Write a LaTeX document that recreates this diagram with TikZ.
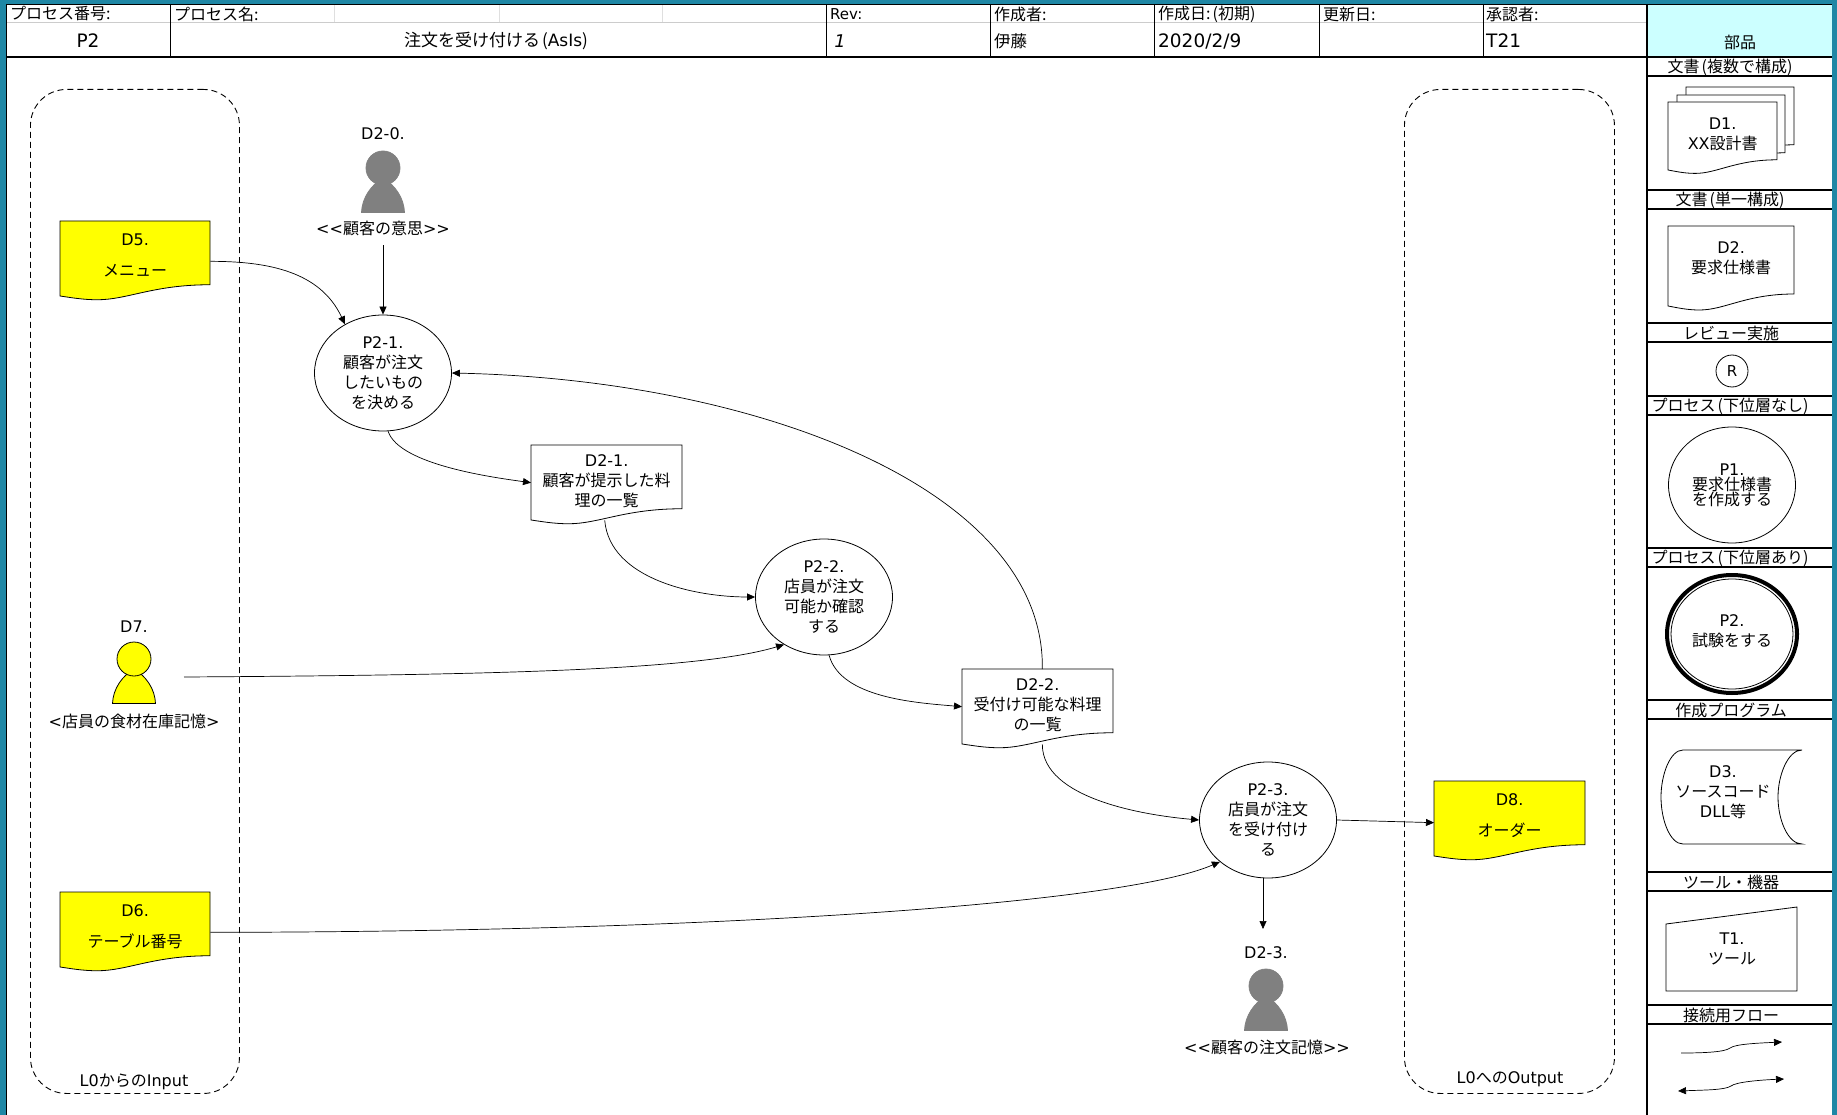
\documentclass[tikz,border=0pt]{standalone}
\usepackage{fontspec}
\setmainfont{Noto Sans CJK JP}
\newfontfamily\slantfont[FakeSlant=0.2]{DejaVu Sans}
\newfontfamily\lat{DejaVu Sans}
\usepackage{tikz}
\usetikzlibrary{positioning}
\usetikzlibrary{shapes.geometric,arrows.meta,calc}
\definecolor{frameteal}{HTML}{1F87A5}
\definecolor{partscyan}{HTML}{CCFFFF}
\definecolor{persongray}{HTML}{808080}
\definecolor{docyellow}{HTML}{FFFF00}
\newcommand{\lp}{\kern2pt(}
\newcommand{\rp}{)\kern2pt}
\newcommand{\topgap}[1]{\rule{0pt}{#1pt}}
\tikzset{
	txt/.style={inner sep=0pt,align=center,font=\fontsize{16}{20}\selectfont},
	hdr/.style={inner sep=0pt,anchor=west,font=\fontsize{16}{18}\selectfont},
	val/.style={inner sep=0pt,anchor=west,font=\fontsize{18.5}{20}\selectfont\lat},
	procnode/.style={draw,ellipse,inner sep=0pt,minimum width=137pt,minimum height=116pt,align=center,line width=0.8pt,font=\fontsize{16}{20}\selectfont},
	flow/.style={line width=0.7pt,-{Triangle[length=8pt,width=7pt]}},
	lane/.style={draw,dashed,line width=0.9pt,rounded corners=36pt,dash pattern=on 6pt off 4pt},
	sect/.style={line width=1.1pt},
}
\newcommand{\docnode}[7]{%
	\node (#1) [anchor=north west,inner sep=0pt,minimum width=#4pt,minimum height=#5pt] at (#2,#3) {};
	\draw[shift={(#2,#3)},x=#4pt,y=-#5pt,fill=#6,line width=0.8pt] (0,0) -- (1,0) -- (1,.85) .. controls (.62,.85) and (.45,1.05) .. (.25,1.05) .. controls (.15,1.05) and (.07,1.02) .. (0,1) -- cycle;
	\node (#1t) [txt,anchor=north] at ([yshift=-9pt]#1.north) {#7};
}
\newcommand{\personnode}[5]{%
	\draw[shift={(#2,#3)},fill=#4,draw=#5,line width=0.8pt] (-21.5,44.5) .. controls (-21,30) and (-12,17) .. (0,10) .. controls (12,17) and (21,30) .. (21.5,44.5) -- cycle;
	\node (#1) [draw=#5,fill=#4,circle,inner sep=0pt,minimum size=34pt,line width=0.8pt] at (#2,#3) {};
}
\begin{document}
\begin{tikzpicture}[x=1pt,y=-1pt]
	\useasboundingbox (0,0) rectangle (1837,1115);
	\fill[frameteal] (0,0) rectangle (1837,1115);
	\fill[white] (6,4) rectangle (1832,1115);
	\fill[partscyan] (1647,4) rectangle (1832,57);

	\foreach \xa in {334,499,662}
		\draw[gray!25] (\xa,4) -- (\xa,23);
	\draw[gray!40,line width=1pt] (6,23) -- (1647,23);
	\foreach \xa in {170,826,990,1154,1319,1483}
		\draw[line width=0.8pt] (\xa,4) -- (\xa,57);
	\draw[line width=0.8pt] (6,4) -- (1832,4);
	\draw[line width=1pt] (6,4) -- (6,1115);
	\draw[line width=1.5pt] (6,57) -- (1832,57);
	\draw[line width=2.5pt] (1647,4) -- (1647,1115);

	\node (hnum) [hdr] at (10,14) {プロセス番号:};
	\node (hname) [hdr] at (174,14) {プロセス名:};
	\node (hrev) [hdr,font=\fontsize{15}{18}\lat] at (830,14) {Rev:};
	\node (hauth) [hdr] at (994,14) {作成者:};
	\node (hdate) [hdr] at (1158,14) {作成日:\lp 初期\rp};
	\node (hupd) [hdr] at (1323,14) {更新日:};
	\node (happ) [hdr] at (1486,14) {承認者:};
	\node (vnum) [val,anchor=center] at (88,41) {P2};
	\node (vname) [val,anchor=center,font=\fontsize{17}{20}\selectfont] at (497,41) {注文を受け付ける\lp{\lat AsIs}\rp};
	\node (vrev) [val,font=\fontsize{17.5}{20}\slantfont] at (833,41) {1};
	\node (vauth) [val,font=\fontsize{16.5}{20}\selectfont] at (994,41) {伊藤};
	\node (vdate) [val] at (1158,41) {2020/2/9};
	\node (vapp) [val] at (1486,41) {T21};
	\node (parts) [hdr,anchor=center] at (1740,42) {部品};

	\foreach \ya/\yb/\ttl in {57/76/文書\lp 複数で構成\rp,190/209/文書\lp 単一構成\rp,323/342/レビュー実施,396/415/プロセス\lp 下位層なし\rp,548/567/プロセス\lp 下位層あり\rp,700/719/作成プログラム,872/891/ツール・機器,1005/1024/接続用フロー} {
		\draw[sect] (1647,\ya) -- (1832,\ya);
		\draw[sect] (1647,\yb) -- (1832,\yb);
		\node [txt] at (1731,{(\ya+\yb)/2+1}) {\ttl};
	}

	\node (inlane) [lane,minimum width=209pt,minimum height=1004pt,anchor=north west] at (30,89) {};
	\node (outlane) [lane,minimum width=210pt,minimum height=1004pt,anchor=north west] at (1404,89) {};
	\node (inlabel) [txt] at (134,1082) {{\lat L0}からの{\lat Input}};
	\node (outlabel) [txt] at (1510,1079) {{\lat L0}への{\lat Output}};

	\docnode{D5}{60}{221}{150}{75}{docyellow}{\topgap{15}{\lat D5.}\\[11pt]メニュー}
	\docnode{D6}{60}{892}{150}{75}{docyellow}{\topgap{15}{\lat D6.}\\[11pt]テーブル番号}
	\docnode{D8}{1434}{781}{151}{75}{docyellow}{\topgap{15}{\lat D8.}\\[11pt]オーダー}
	\docnode{D21}{531}{445}{151}{75}{white}{{\lat D2-1.}\\顧客が提示した料\\理の一覧}
	\docnode{D22}{962}{669}{151}{75}{white}{{\lat D2-2.}\\受付け可能な料理\\の一覧}

	\personnode{D20}{383}{168}{persongray}{persongray}
	\node (D20name) [txt,font=\fontsize{16}{20}\lat] at (383,134) {D2-0.};
	\node (D20txt) [txt,minimum height=34pt] at (383,228) {{\lat <{}<}顧客の意思{\lat >{}>}};
	\personnode{D7}{134}{659}{docyellow}{black}
	\node (D7name) [txt,font=\fontsize{16}{20}\lat] at (134,627) {D7.};
	\node (D7txt) [txt] at (134,721) {{\lat <}店員の食材在庫記憶{\lat >}};
	\coordinate (D7out) at (184,677);
	\personnode{D23}{1266}{986}{persongray}{persongray}
	\node (D23name) [txt,font=\fontsize{16}{20}\lat] at (1266,953) {D2-3.};
	\node (D23txt) [txt] at (1267,1047) {{\lat <{}<}顧客の注文記憶{\lat >{}>}};
	\coordinate (D23in) at (1263,929);

	\node (P21) [procnode] at (383,373) {{\lat P2-1.}\\顧客が注文\\したいもの\\を決める};
	\node (P22) [procnode] at (824,597) {{\lat P2-2.}\\店員が注文\\可能か確認\\する};
	\node (P23) [procnode] at (1268,820) {{\lat P2-3.}\\店員が注文\\を受け付け\\る};

	\draw[flow] (D5.-2) to[out=0,in=115] (P21.128);
	\draw[flow] (D20txt.south) -- (P21.north);
	\draw[flow] (P21.-85) to[out=-72,in=172,looseness=.6] (D21.west);
	\draw[flow] (D21.-93) to[out=-85,in=180,looseness=.9] (P22.west);
	\draw[flow] (D7out) .. controls (500,675) and (700,670) .. (P22.230);
	\draw[flow] (P22.-85) to[out=-75,in=175,looseness=.8] (D22.west);
	\draw[flow] (D22.83) .. controls (1045,490) and (760,380) .. (P21.east);
	\draw[flow] (D22.-83) to[out=-90,in=175,looseness=.8] (P23.west);
	\draw[flow] (P23.east) -- (D8.183);
	\draw[flow] (D6.-2) .. controls (700,932) and (1120,905) .. (P23.221);
	\draw[flow] (P23.south -| D23in) -- (D23in);

	\docnode{D1c}{1686}{87}{108}{68}{white}{}
	\docnode{D1b}{1677}{95}{108}{68}{white}{}
	\docnode{D1a}{1668}{102}{109}{68}{white}{\topgap{18}{\lat D1.}\\{\lat XX}設計書}
	\docnode{D2}{1668}{226}{126}{80}{white}{\topgap{18.5}{\lat D2.}\\要求仕様書}
	\node (R) [draw,circle,minimum size=32pt,inner sep=0pt,line width=0.8pt,font=\fontsize{15}{18}\lat] at (1732,371) {R};
	\node (P1) [draw,ellipse,minimum width=127pt,minimum height=116pt,inner sep=0pt,align=center,line width=0.8pt,font=\fontsize{16}{15}\selectfont] at (1732,485) {{\lat P1.}\\要求仕様書\\を作成する};
	\node (P2) [draw,ellipse,minimum width=130pt,minimum height=118pt,line width=4pt] at (1732,634) {};
	\node (P2in) [draw,ellipse,minimum width=122pt,minimum height=110pt,line width=0.8pt] at (P2) {};
	\node (P2t) [txt] at (1732,631) {{\lat P2.}\\試験をする};
	\draw[line width=0.8pt] (1802,750) -- (1683,750) .. controls (1670,750) and (1661,775) .. (1661,797) .. controls (1661,820) and (1670,844) .. (1683,844) -- (1802,844) .. controls (1788,844) and (1778,820) .. (1778,797) .. controls (1778,775) and (1788,750) .. (1802,750);
	\node (D3) [txt] at (1723,792) {{\lat D3.}\\ソースコード\\{\lat DLL}等};
	\draw[line width=0.8pt] (1666,924) -- (1797,907) -- (1797,991) -- (1666,991) -- cycle;
	\node (T1) [txt] at (1732,949) {{\lat T1.}\\ツール};
	\coordinate (fa1) at (1681,1053);
	\coordinate (fa2) at (1782,1042);
	\coordinate (fb1) at (1678,1091);
	\coordinate (fb2) at (1784,1079);
	\draw[flow] (fa1) .. controls (1705,1053) and (1725,1052) .. (1730,1048) .. controls (1735,1044) and (1760,1043) .. (fa2);
	\draw[line width=0.7pt,{Triangle[length=8pt,width=7pt]}-{Triangle[length=8pt,width=7pt]}] (fb1) .. controls (1705,1090) and (1725,1090) .. (1731,1086) .. controls (1736,1082) and (1760,1080) .. (fb2);
\end{tikzpicture}
\end{document}
